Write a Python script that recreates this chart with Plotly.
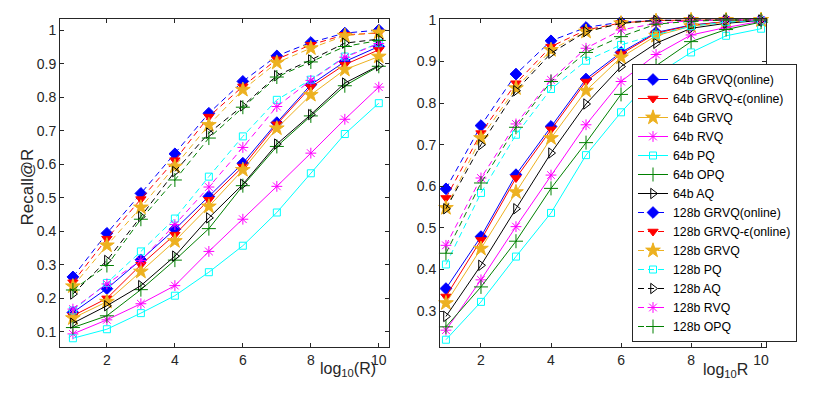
import plotly.graph_objects as go

R = [1, 2, 3, 4, 5, 6, 7, 8, 9, 10]

# left panel
left_64_grvq_online = [0.158, 0.229, 0.315, 0.406, 0.504, 0.603, 0.724, 0.837, 0.906, 0.951]
left_64_grvq_eps = [0.148, 0.200, 0.300, 0.390, 0.494, 0.593, 0.719, 0.830, 0.897, 0.941]
left_64_grvq = [0.141, 0.190, 0.280, 0.371, 0.474, 0.583, 0.707, 0.807, 0.882, 0.921]
left_64_rvq = [0.094, 0.136, 0.184, 0.238, 0.340, 0.436, 0.534, 0.633, 0.734, 0.830]
left_64_pq = [0.081, 0.108, 0.156, 0.208, 0.278, 0.357, 0.456, 0.573, 0.690, 0.782]
left_64_opq = [0.113, 0.148, 0.226, 0.314, 0.408, 0.536, 0.653, 0.744, 0.834, 0.892]
left_64_aq = [0.126, 0.178, 0.238, 0.326, 0.440, 0.540, 0.660, 0.748, 0.842, 0.894]
left_128_grvq_online = [0.264, 0.394, 0.513, 0.631, 0.752, 0.847, 0.923, 0.963, 0.991, 1.000]
left_128_grvq_eps = [0.248, 0.378, 0.496, 0.612, 0.742, 0.832, 0.913, 0.956, 0.986, 0.991]
left_128_grvq = [0.236, 0.358, 0.471, 0.593, 0.717, 0.822, 0.903, 0.946, 0.983, 0.993]
left_128_pq = [0.164, 0.246, 0.340, 0.438, 0.563, 0.683, 0.792, 0.852, 0.921, 0.961]
left_128_aq = [0.213, 0.313, 0.444, 0.578, 0.693, 0.774, 0.864, 0.911, 0.961, 0.973]
left_128_rvq = [0.168, 0.243, 0.313, 0.420, 0.532, 0.650, 0.772, 0.850, 0.919, 0.960]
left_128_opq = [0.225, 0.298, 0.436, 0.553, 0.678, 0.770, 0.860, 0.905, 0.951, 0.969]

# right panel
right_64_grvq_online = [0.354, 0.479, 0.628, 0.744, 0.858, 0.922, 0.970, 0.988, 0.996, 1.000]
right_64_grvq_eps = [0.335, 0.471, 0.620, 0.737, 0.852, 0.918, 0.968, 0.987, 0.996, 1.000]
right_64_grvq = [0.319, 0.450, 0.586, 0.716, 0.830, 0.910, 0.962, 0.985, 0.995, 1.000]
right_64_rvq = [0.254, 0.375, 0.503, 0.627, 0.748, 0.852, 0.917, 0.964, 0.982, 0.997]
right_64_pq = [0.231, 0.322, 0.431, 0.536, 0.675, 0.778, 0.868, 0.922, 0.962, 0.979]
right_64_opq = [0.262, 0.358, 0.468, 0.595, 0.705, 0.821, 0.890, 0.948, 0.977, 0.995]
right_64_aq = [0.287, 0.410, 0.546, 0.680, 0.798, 0.888, 0.944, 0.980, 0.992, 0.999]
right_128_grvq_online = [0.594, 0.746, 0.870, 0.950, 0.982, 0.995, 0.999, 1.000, 1.000, 1.000]
right_128_grvq_eps = [0.572, 0.728, 0.848, 0.936, 0.976, 0.993, 0.999, 1.000, 1.000, 1.000]
right_128_grvq = [0.548, 0.716, 0.836, 0.928, 0.972, 0.992, 0.998, 1.000, 1.000, 1.000]
right_128_pq = [0.412, 0.584, 0.724, 0.834, 0.902, 0.940, 0.965, 0.985, 0.995, 0.999]
right_128_aq = [0.546, 0.700, 0.830, 0.920, 0.972, 0.992, 0.999, 1.000, 1.000, 1.000]
right_128_rvq = [0.458, 0.620, 0.750, 0.856, 0.932, 0.976, 0.992, 0.998, 1.000, 1.000]
right_128_opq = [0.439, 0.608, 0.742, 0.852, 0.922, 0.960, 0.990, 0.997, 1.000, 1.000]

BLUE = "#0000ff"
RED = "#ff0000"
ORANGE = "#edb120"
MAGENTA = "#ff00ff"
CYAN = "#00ffff"
GREEN = "#008000"
BLACK = "#000000"
AXC = "#262626"
FONT = "Liberation Sans, Arial, sans-serif"
DASH = "6px,4px"

# the page body keeps its 8px margin, so the figure is 16px smaller than the window
OFF = 8
W, H = 830 - 2 * OFF, 396 - 2 * OFF


def px(x):
    return (x - OFF) / W


def py(y):
    return (H - (y - OFF)) / H


# name, color, symbol, size, dash, left data, right data
series = [
    ("64b GRVQ(online)", BLUE, "diamond", 9, "solid", left_64_grvq_online, right_64_grvq_online),
    ("64b GRVQ-\u03f5(online)", RED, "triangle-down", 9, "solid", left_64_grvq_eps, right_64_grvq_eps),
    ("64b GRVQ", ORANGE, "star", 11, "solid", left_64_grvq, right_64_grvq),
    ("64b RVQ", MAGENTA, "asterisk-open", 9, "solid", left_64_rvq, right_64_rvq),
    ("64b PQ", CYAN, "square-open", 7, "solid", left_64_pq, right_64_pq),
    ("64b OPQ", GREEN, "cross-thin-open", 10, "solid", left_64_opq, right_64_opq),
    ("64b AQ", BLACK, "triangle-right-open", 9, "solid", left_64_aq, right_64_aq),
    ("128b GRVQ(online)", BLUE, "diamond", 9, DASH, left_128_grvq_online, right_128_grvq_online),
    ("128b GRVQ-\u03f5(online)", RED, "triangle-down", 9, DASH, left_128_grvq_eps, right_128_grvq_eps),
    ("128b GRVQ", ORANGE, "star", 11, DASH, left_128_grvq, right_128_grvq),
    ("128b PQ", CYAN, "square-open", 7, DASH, left_128_pq, right_128_pq),
    ("128b AQ", BLACK, "triangle-right-open", 9, DASH, left_128_aq, right_128_aq),
    ("128b RVQ", MAGENTA, "asterisk-open", 9, DASH, left_128_rvq, right_128_rvq),
    ("128b OPQ", GREEN, "cross-thin-open", 10, DASH, left_128_opq, right_128_opq),
]

fig = go.Figure()

for name, color, symbol, size, dash, left, right in series:
    marker = dict(symbol=symbol, size=size, color=color, line=dict(color=color, width=1))
    line = dict(color=color, width=1, dash=dash)
    fig.add_trace(go.Scatter(x=R, y=left, mode="lines+markers", name=name, marker=marker,
                             line=line, legendgroup=name, xaxis="x", yaxis="y", cliponaxis=False))
    fig.add_trace(go.Scatter(x=R, y=right, mode="lines+markers", name=name, marker=marker,
                             line=line, legendgroup=name, showlegend=False, xaxis="x2", yaxis="y2",
                             cliponaxis=False))

axis_style = dict(showgrid=False, zeroline=False, showline=True, linecolor=AXC, linewidth=1,
                  mirror="ticks", ticks="inside", ticklen=4, tickcolor=AXC, automargin=False,
                  tickfont=dict(family=FONT, size=14, color=AXC))

y_dom = [py(347), py(19)]
fig.update_layout(
    width=W, height=H,
    margin=dict(l=0, r=0, t=0, b=0, pad=0, autoexpand=False),
    paper_bgcolor="white", plot_bgcolor="white",
    font=dict(family=FONT, color=AXC),
    xaxis=dict(domain=[px(60), px(389)], range=[0.62, 10.3], tickvals=[2, 4, 6, 8, 10],
               anchor="y", **axis_style),
    yaxis=dict(domain=y_dom, range=[0.055, 1.033], dtick=0.1, tick0=0, anchor="x",
               tickformat=".1~f", **axis_style),
    xaxis2=dict(domain=[px(440), px(766)], range=[0.83, 10.14], tickvals=[2, 4, 6, 8, 10],
                anchor="y2", **axis_style),
    yaxis2=dict(domain=y_dom, range=[0.2135, 1.0024], dtick=0.1, tick0=0, anchor="x2",
                tickformat=".1~f", **axis_style),
    legend=dict(x=px(632), y=py(342), xanchor="left", yanchor="bottom",
                bgcolor="white", bordercolor=AXC, borderwidth=1,
                font=dict(family=FONT, size=12.3, color="black"), tracegroupgap=0),
    annotations=[
        dict(text="Recall@R", textangle=-90, x=px(15), y=py(187), xref="paper",
             yref="paper", showarrow=False, font=dict(family=FONT, size=17, color=AXC)),
        dict(text="log<sub>10</sub>(R)", x=px(318), y=py(358), xref="paper", yref="paper",
             xanchor="left", yanchor="top", showarrow=False,
             font=dict(family=FONT, size=16, color=AXC)),
        dict(text="log<sub>10</sub>R", x=px(701), y=py(359), xref="paper", yref="paper",
             xanchor="left", yanchor="top", showarrow=False,
             font=dict(family=FONT, size=16, color=AXC)),
    ],
)

fig.write_html("out.html")
